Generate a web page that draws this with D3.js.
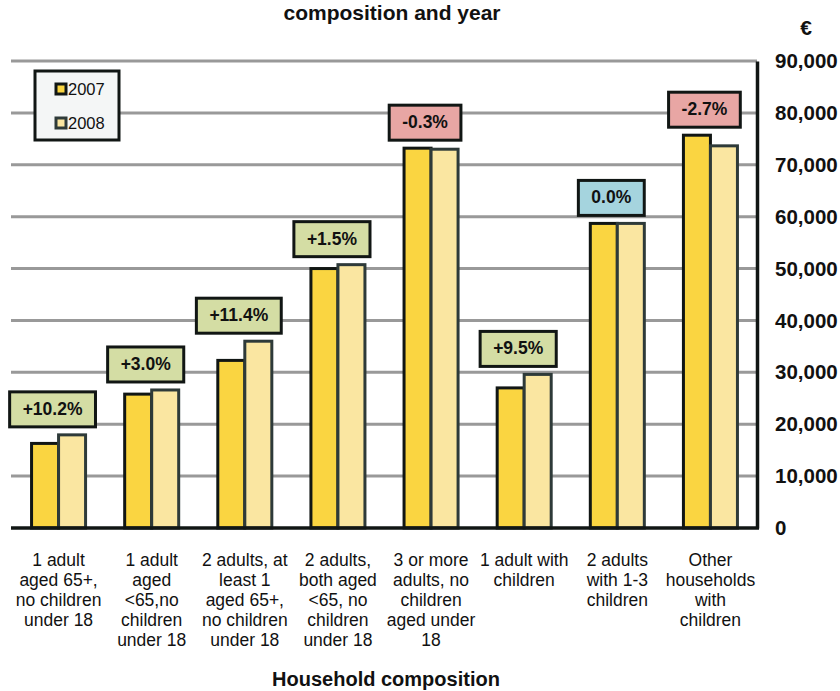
<!DOCTYPE html>
<head>
  <meta charset="utf-8">
  <script src="https://d3js.org/d3.v7.min.js"></script>
  <style type="text/css">
    body { margin:0; background:#fff; }
    text { font-family: "Liberation Sans", Arial, sans-serif; fill:#111; }
    .grid { stroke:#999; stroke-width:3; }
    .tick text { font-weight:bold; font-size:20.5px; }
    .cat { font-size:17.5px; }
    .pct { font-weight:bold; font-size:17.5px; }
  </style>
</head>

<body>
  <script>

  // data
  var categories = [
    ["1 adult", "aged 65+,", "no children", "under 18"],
    ["1 adult", "aged", "<65,no", "children", "under 18"],
    ["2 adults, at", "least 1", "aged 65+,", "no children", "under 18"],
    ["2 adults,", "both aged", "<65, no", "children", "under 18"],
    ["3 or more", "adults, no", "children", "aged under", "18"],
    ["1 adult with", "children"],
    ["2 adults", "with 1-3", "children"],
    ["Other", "households", "with", "children"]
  ];
  var years = ["2007", "2008"];
  var values2007 = [16300, 25800, 32300, 50000, 73200, 27000, 58700, 75700];
  var values2008 = [17950, 26600, 36000, 50750, 73000, 29600, 58700, 73650];
  var changes = ["+10.2%", "+3.0%", "+11.4%", "+1.5%", "-0.3%", "+9.5%", "0.0%", "-2.7%"];
  var yTicks = [0, 10000, 20000, 30000, 40000, 50000, 60000, 70000, 80000, 90000];

  var fills = {"2007": "#FAD541", "2008": "#FAE6A1"};
  var strokes = {"2007": "#111614", "2008": "#2E3A39"};

  var width = 840, height = 691;

  var svg = d3.select("body").append("svg")
    .attr("width", width)
    .attr("height", height);

  var keys = categories.map(function(d, i) { return i; });

  var x = d3.scaleBand()
    .domain(keys)
    .range([12, 757])
    .paddingInner(0.42)
    .paddingOuter(0.21);

  var xYear = d3.scaleBand()
    .domain(years)
    .range([0, x.bandwidth()]);

  var y = d3.scaleLinear()
    .domain([0, 90000])
    .range([528, 61]);

  // gridlines
  svg.selectAll(".grid")
    .data(yTicks.slice(1))
    .enter().append("line")
    .attr("class", "grid")
    .attr("x1", 11)
    .attr("x2", 757)
    .attr("y1", function(d) { return y(d); })
    .attr("y2", function(d) { return y(d); });

  // bars
  var rows = keys.map(function(i) {
    return [{year: "2007", value: values2007[i]}, {year: "2008", value: values2008[i]}];
  });

  var groups = svg.selectAll(".group")
    .data(rows)
    .enter().append("g")
    .attr("class", "group")
    .attr("transform", function(d, i) { return "translate(" + x(i) + ",0)"; });

  groups.selectAll("rect")
    .data(function(d) { return d; })
    .enter().append("rect")
    .attr("x", function(d) { return xYear(d.year); })
    .attr("y", function(d) { return y(d.value); })
    .attr("width", xYear.bandwidth())
    .attr("height", function(d) { return y(0) - y(d.value); })
    .attr("fill", function(d) { return fills[d.year]; })
    .attr("stroke", function(d) { return strokes[d.year]; })
    .attr("stroke-width", 3);

  // baseline
  svg.append("line")
    .attr("x1", 11).attr("x2", 759)
    .attr("y1", y(0)).attr("y2", y(0))
    .attr("stroke", "#111614")
    .attr("stroke-width", 3.5);

  // right axis
  var axis = svg.append("g")
    .attr("transform", "translate(757,0)")
    .call(d3.axisRight(y)
      .tickValues(yTicks)
      .tickSize(0)
      .tickSizeOuter(0)
      .tickPadding(18)
      .tickFormat(d3.format(",")));
  axis.select(".domain")
    .attr("stroke", "#111614")
    .attr("stroke-width", 3.5);

  svg.append("text")
    .attr("x", 806)
    .attr("y", 35)
    .attr("text-anchor", "middle")
    .style("font-weight", "bold")
    .style("font-size", "21px")
    .text("€");

  // change labels
  var colourFor = function(s) {
    if (s.charAt(0) === "+") return "#D4DDA4";
    if (s.charAt(0) === "-") return "#E8A6A4";
    return "#A5D4DE";
  };

  keys.forEach(function(i) {
    var top = y(Math.max(values2007[i], values2008[i]));
    var cx = x(i) + x.bandwidth() / 2 - 6;
    var g = svg.append("g");
    var t = g.append("text")
      .attr("class", "pct")
      .attr("x", cx)
      .attr("y", top - 8 - 12)
      .attr("text-anchor", "middle")
      .text(changes[i]);
    var w = t.node().getComputedTextLength() + 26;
    g.insert("rect", "text")
      .attr("x", cx - w / 2)
      .attr("y", top - 8 - 35)
      .attr("width", w)
      .attr("height", 35)
      .attr("fill", colourFor(changes[i]))
      .attr("stroke", "#111614")
      .attr("stroke-width", 3);
  });

  // legend
  var legend = svg.append("g");
  legend.append("rect")
    .attr("x", 35).attr("y", 71)
    .attr("width", 84).attr("height", 69)
    .attr("fill", "#F4F6F6")
    .attr("stroke", "#111614")
    .attr("stroke-width", 3);
  years.forEach(function(yr, i) {
    legend.append("rect")
      .attr("x", 56).attr("y", 84 + i * 34)
      .attr("width", 10).attr("height", 10)
      .attr("fill", fills[yr])
      .attr("stroke", strokes[yr])
      .attr("stroke-width", 3);
    legend.append("text")
      .attr("x", 68).attr("y", 95 + i * 34)
      .style("font-size", "16.5px")
      .text(yr);
  });

  // category labels
  var cat = svg.selectAll(".cat")
    .data(categories)
    .enter().append("text")
    .attr("class", "cat")
    .attr("text-anchor", "middle");
  cat.selectAll("tspan")
    .data(function(d, i) { return d.map(function(s) { return {s: s, i: i}; }); })
    .enter().append("tspan")
    .attr("x", function(d) { return x(d.i) + x.bandwidth() / 2; })
    .attr("y", function(d, j) { return 566 + j * 20; })
    .text(function(d) { return d.s; });

  // titles
  svg.append("text")
    .attr("x", 392)
    .attr("y", 20)
    .attr("text-anchor", "middle")
    .style("font-weight", "bold")
    .style("font-size", "21px")
    .text("composition and year");

  svg.append("text")
    .attr("x", 386)
    .attr("y", 686)
    .attr("text-anchor", "middle")
    .style("font-weight", "bold")
    .style("font-size", "20px")
    .text("Household composition");

  </script>
</body>
